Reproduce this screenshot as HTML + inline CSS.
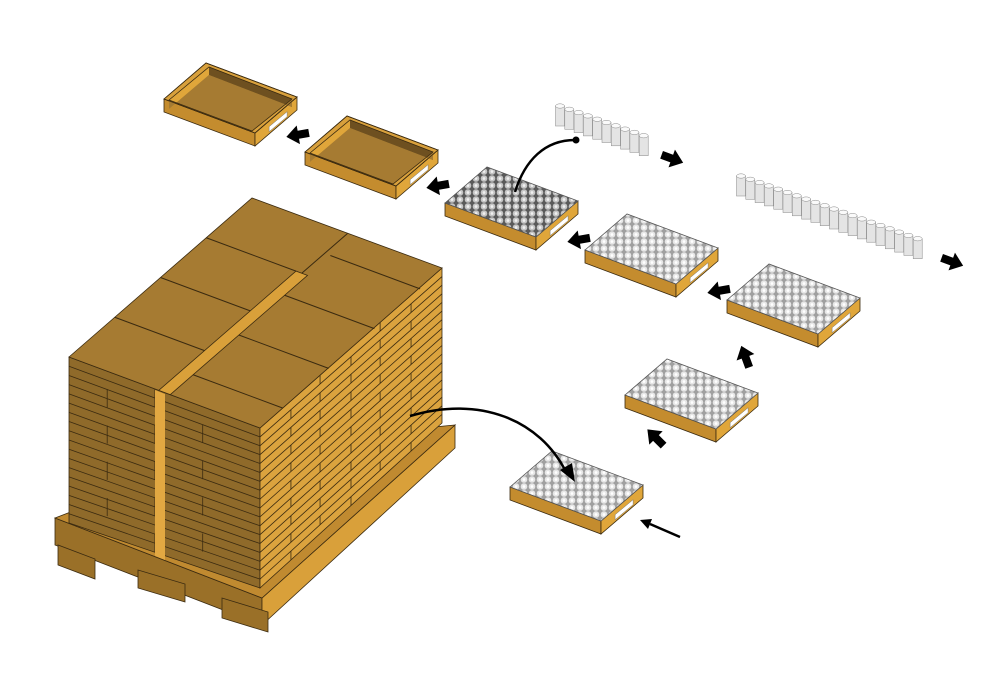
<!DOCTYPE html>
<html><head><meta charset="utf-8"><style>html,body{margin:0;padding:0;background:#fff;width:1000px;height:692px;overflow:hidden}</style></head>
<body>
<svg id="s" width="1000" height="692" viewBox="0 0 1000 692" xmlns="http://www.w3.org/2000/svg">
<defs>
<pattern id="cans" width="8" height="7" patternUnits="userSpaceOnUse">
<rect width="8" height="7" fill="#a0a0a0"/>
<circle cx="4" cy="3.5" r="3.3" fill="#e6e6e6"/>
<circle cx="4" cy="3.5" r="1.4" fill="#fff"/>
</pattern>
<pattern id="cansd" width="8" height="7" patternUnits="userSpaceOnUse">
<rect width="8" height="7" fill="#5a5a5a"/>
<circle cx="4" cy="3.5" r="3.3" fill="#c4c4c4"/>
<circle cx="4" cy="3.5" r="1.4" fill="#f0f0f0"/>
</pattern>
</defs>
<g id="g"></g>
</svg>
<script>
var g=document.getElementById('g'),h='';
function P(pts,f,s){h+='<polygon points="'+pts.map(p=>p.join(',')).join(' ')+'" fill="'+f+'" stroke="'+(s||'#3a2a10')+'" stroke-width="0.8"/>';}
function L(a,b,c,w){h+='<line x1="'+a[0]+'" y1="'+a[1]+'" x2="'+b[0]+'" y2="'+b[1]+'" stroke="'+(c||'#3a2a10')+'" stroke-width="'+(w||0.8)+'"/>';}
// pallet
P([[55,518],[55,545],[262,625],[262,598]],'#9a7028');
P([[262,598],[262,625],[455,448],[455,425]],'#d9a03a');
P([[55,518],[245,445],[455,425],[262,598]],'#c08a30');
[[58,545,95,565],[138,570,185,588],[222,598,268,618]].forEach(b=>P([[b[0],b[1]],[b[0],b[3]],[b[2],b[3]+14],[b[2],b[1]+14]],'#9a7028'));
// stack faces
var A=[69,357],B=[252,198],C=[442,268],D=[260,428],Ab=[69,523],Db=[260,588],Cb=[442,423];
P([A,D,Db,Ab],'#8f6a2a');
P([D,C,Cb,Db],'#dba33e');
P([A,B,C,D],'#a67b32');
for(var i=1;i<18;i++){var t=i/18;
L([69,357+166*t],[260,428+160*t]);
L([260,428+160*t],[442,268+155*t]);}
for(var r=0;r<18;r++){var t0=r/18,t1=(r+1)/18;var off=(r%2)?0.17:0.0;
for(var k=0;k<4;k++){var u=off+k*0.33;if(u<=0.02||u>=0.98)continue;var x=260+182*u;
var y=428-160*u;
L([x,y+(160-5*u)*t0],[x,y+(160-5*u)*t1]);}}
for(var r=0;r<18;r++){var t0=r/18,t1=(r+1)/18;var us=(r%4<2)?[0.45]:[0.2,0.7];
us.forEach(u=>{var x=69+191*u,y=357+71*u;L([x,y+163*t0],[x,y+163*t1]);});}
P([[155,390],[165,394],[165,560],[155,556]],'#e2a842','none');
// top face grid
function tp(u,v){return [69+(252-69)*v+(260-69)*u, 357+(198-357)*v+(428-357)*u];}
[0.25,0.5,0.75].forEach(v=>L(tp(0,v),tp(0.47,v),'#3a2a10',1));
[0.125,0.375,0.625,0.875].forEach(v=>L(tp(0.53,v),tp(1,v),'#3a2a10',1));
L(tp(0.5,0.75),tp(0.5,1),'#3a2a10',1);
P([tp(0.47,0),tp(0.53,0),tp(0.53,0.75),tp(0.47,0.75)],'#d9a03a');
// trays
var a=[91,34],b=[42,-36],d=13;
function tray(x,y,type){var l=[x,y],f=[x+a[0],y+a[1]],r=[x+a[0]+b[0],y+a[1]+b[1]],t=[x+b[0],y+b[1]];
P([l,f,[f[0],f[1]+d],[l[0],l[1]+d]],'#c48c2e');
P([f,r,[r[0],r[1]+d],[f[0],f[1]+d]],'#e0a63a');
if(type=='e'){P([l,t,r,f],'#d8a03c');
var il=[l[0]+5,l[1]+1],it=[t[0]+3,t[1]+4],ir=[r[0]-5,r[1]+2],iff=[f[0]-3,f[1]-2];
P([il,it,ir,iff],'#a67b32','none');
P([[il[0],il[1]],[it[0],it[1]],[t[0]+3,t[1]+12],[il[0],il[1]+9]],'#e0a63a','none');
P([[it[0],it[1]],[ir[0],ir[1]],[ir[0],ir[1]+8],[t[0]+3,t[1]+12]],'#6e5020','none');
P([il,[il[0],il[1]+9],[t[0]+3,t[1]+12],[ir[0],ir[1]+8],ir,iff],'#a67b32','none');
P([l,t,r,f],'none');
P([il,it,ir,iff],'none','#3a2a10');}
else P([l,t,r,f],type=='d'?'url(#cansd)':'url(#cans)','#555');
var mx=f[0]+b[0]*0.55,my=f[1]+b[1]*0.55+d*0.5;
h+='<polygon points="'+(mx-9)+','+(my+7)+' '+(mx+9)+','+(my-8)+' '+(mx+9)+','+(my-3)+' '+(mx-9)+','+(my+12)+'" fill="#fff" stroke="#777" stroke-width="0.5"/>';}
tray(164,99,'e');tray(305,152,'e');tray(445,203,'d');tray(585,250);tray(727,300);tray(625,395);tray(510,487);
function row(x,y,n){for(var i=0;i<n;i++){var cx=x+i*9.3,cy=y+i*3.3;
h+='<rect x="'+(cx-4.5)+'" y="'+cy+'" width="9" height="20" fill="#e4e4e4" stroke="#888" stroke-width="0.5"/><ellipse cx="'+cx+'" cy="'+cy+'" rx="4.5" ry="2.2" fill="#fafafa" stroke="#888" stroke-width="0.5"/>';}}
row(560,106,10);row(741,176,20);
function arr(x,y,ang){h+='<g transform="translate('+x+','+y+') rotate('+ang+') scale(1.35)"><polygon points="-8,0 1,-7 1,-3 9,-3 9,3 1,3 1,7" fill="#000"/></g>';}
arr(297,135,-10);arr(437,186,-10);arr(578,240,-10);arr(718,291,-10);arr(745,356,70);arr(655,437,45);arr(673,159,200);arr(953,262,200);
h+='<line x1="680" y1="537" x2="650" y2="524" stroke="#000" stroke-width="2.5"/><polygon points="640,520 652,519 648,529" fill="#000"/>';
h+='<path d="M575,140 C545,140 525,160 515,192" fill="none" stroke="#000" stroke-width="2.5"/><circle cx="576" cy="140" r="3.5" fill="#000"/>';
h+='<path d="M410,416 C480,395 540,420 566,472" fill="none" stroke="#000" stroke-width="2.5"/><polygon points="560,470 575,482 572,463" fill="#000"/>';
g.innerHTML=h;
</script>
</body></html>
